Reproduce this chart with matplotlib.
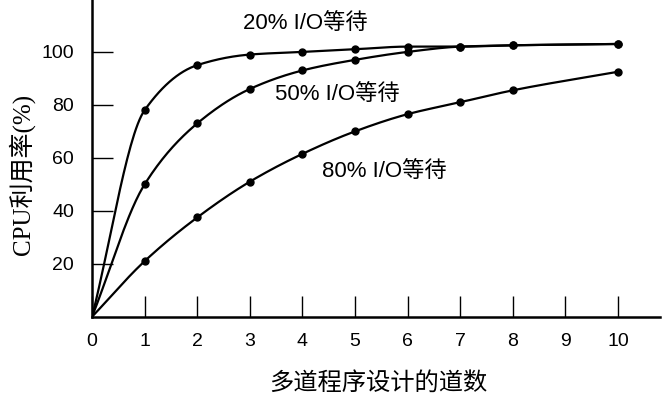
import matplotlib
import numpy as np

matplotlib.use("Agg")
import matplotlib.pyplot as plt

plt.rcParams["font.family"] = ["Liberation Sans", "Noto Sans CJK SC", "DejaVu Sans"]

# degree of multiprogramming (points drawn on the curves)
n_procs = [0, 1, 2, 3, 4, 5, 6, 7, 8, 10]
util_20 = [0, 78, 95, 99, 100, 101, 102, 102, 102.5, 103]
util_50 = [0, 50, 73, 86, 93, 97, 100, 102, 102.5, 103]
util_80 = [0, 21, 37.5, 51, 61.5, 70, 76.5, 81, 85.5, 92.5]

curve_labels = ["20% I/O等待", "50% I/O等待", "80% I/O等待"]
x_ticks = list(range(0, 11))
y_ticks = [20, 40, 60, 80, 100]


def smooth(xs, ys, num=300):
    """Monotone cubic (Fritsch-Carlson) path through the points, for drawing only."""
    x = np.asarray(xs, float)
    y = np.asarray(ys, float)
    h = np.diff(x)
    d = np.diff(y) / h
    m = np.zeros_like(y)
    m[0], m[-1] = d[0], d[-1]
    for i in range(1, len(x) - 1):
        if d[i - 1] * d[i] <= 0:
            m[i] = 0
        else:
            w1 = 2 * h[i] + h[i - 1]
            w2 = h[i] + 2 * h[i - 1]
            m[i] = (w1 + w2) / (w1 / d[i - 1] + w2 / d[i])
    xx = np.linspace(x[0], x[-1], num)
    k = np.clip(np.searchsorted(x, xx) - 1, 0, len(x) - 2)
    t = (xx - x[k]) / h[k]
    h00 = 2 * t**3 - 3 * t**2 + 1
    h10 = t**3 - 2 * t**2 + t
    h01 = -2 * t**3 + 3 * t**2
    h11 = t**3 - t**2
    yy = h00 * y[k] + h10 * h[k] * m[k] + h01 * y[k + 1] + h11 * h[k] * m[k + 1]
    return xx, yy


fig = plt.figure(figsize=(6.62, 3.96), dpi=100)
ax = fig.add_axes([0.139, 0.2, 0.858, 0.8])

for ys in (util_20, util_50, util_80):
    sx, sy = smooth(n_procs, ys)
    ax.plot(sx, sy, color="black", lw=1.6, solid_capstyle="round")
    ax.plot(n_procs[1:], ys[1:], "o", color="black", ms=5)

ax.set_xlim(0, 10.8)
ax.set_ylim(0, 119.6)
ax.set_xticks(x_ticks)
ax.set_yticks(y_ticks)
ax.tick_params(axis="both", direction="in", length=15, width=1.0, labelsize=14,
               colors="black")
ax.tick_params(axis="x", pad=12)
ax.tick_params(axis="y", pad=13)
for side in ("top", "right"):
    ax.spines[side].set_visible(False)
for side in ("left", "bottom"):
    ax.spines[side].set_linewidth(1.8)

# curve labels
ax.text(2.87, 108.3, curve_labels[0], fontsize=16, va="baseline")
ax.text(3.48, 81.5, curve_labels[1], fontsize=16, va="baseline")
ax.text(4.37, 52.5, curve_labels[2], fontsize=16, va="baseline")

serif_cjk = ["Liberation Serif", "Noto Sans CJK SC"]
fig.text(22 / 662, 1 - 174 / 396, "CPU利用率(%)", rotation=90, ha="center", va="center",
         fontsize=18, family=serif_cjk)
fig.text(378 / 662, 1 - 383 / 396, "多道程序设计的道数", ha="center", va="center",
         fontsize=17.5, family=serif_cjk)

fig.savefig("out.png", dpi=100)
plt.close(fig)
